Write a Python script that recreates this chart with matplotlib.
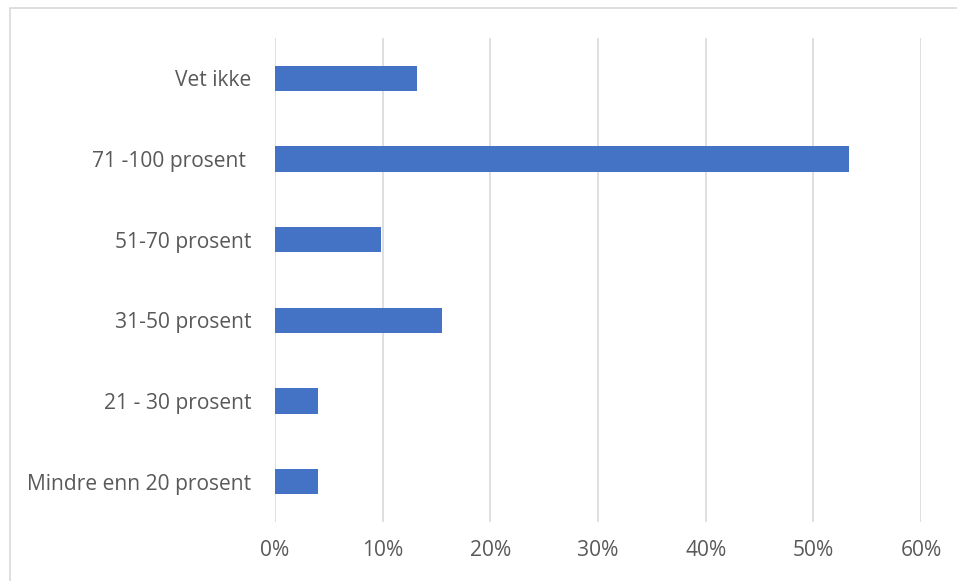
import matplotlib.pyplot as plt
from matplotlib.patches import Rectangle
from matplotlib.ticker import PercentFormatter

# Categories bottom to top, shares in percent
categories = ["Mindre enn 20 prosent", "21 - 30 prosent", "31-50 prosent",
              "51-70 prosent", "71 -100 prosent ", "Vet ikke"]
values = [4.0, 4.0, 15.5, 9.8, 53.3, 13.2]
xticks = [0, 10, 20, 30, 40, 50, 60]

plt.rcParams['font.family'] = ['Open Sans', 'DejaVu Sans']

fig = plt.figure(figsize=(9.57, 5.81), dpi=100)
ax = fig.add_axes([275/957, 59/581, 646/957, 484/581])

# light frame around the chart area
fig.patches.append(Rectangle((10/957, -0.1), 1.2, 1.1 - 8/581,
                             transform=fig.transFigure, fill=False,
                             edgecolor="#d9d9d9", linewidth=1.2))

ax.barh(range(len(categories)), values, height=0.31, color="#4472c4", zorder=3)

ax.set_xlim(0, 60)
ax.set_ylim(-0.5, len(categories) - 0.5)
ax.set_xticks(xticks)
ax.xaxis.set_major_formatter(PercentFormatter(decimals=0))
ax.set_yticks(range(len(categories)))
ax.set_yticklabels(categories)

ax.grid(axis="x", color="#d9d9d9", linewidth=1.2, zorder=0)
for s in ax.spines.values():
    s.set_visible(False)
ax.tick_params(axis="both", length=0, labelsize=15.1, colors="#595959")
ax.tick_params(axis="y", pad=17)
ax.tick_params(axis="x", pad=13)

fig.savefig("out.png", dpi=100)
